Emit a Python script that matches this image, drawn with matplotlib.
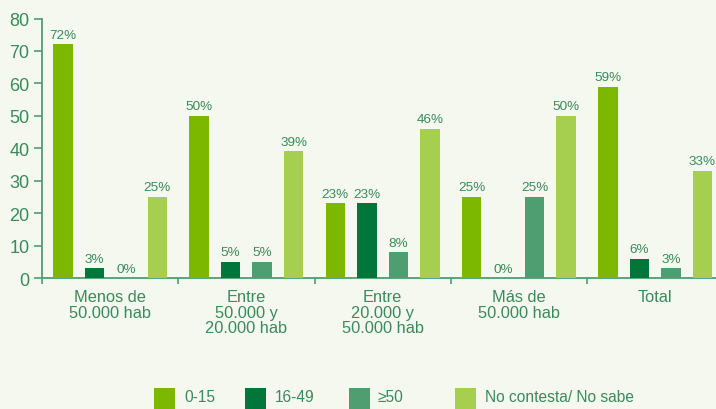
import matplotlib
matplotlib.use("Agg")
import matplotlib.pyplot as plt
from matplotlib.patches import Rectangle
import numpy as np

plt.rcParams['font.family'] = ['Liberation Sans', 'DejaVu Sans']

categories = ["Menos de\n50.000 hab", "Entre\n50.000 y\n20.000 hab",
              "Entre\n20.000 y\n50.000 hab", "Más de\n50.000 hab", "Total"]
series_names = ["0-15", "16-49", "≥50", "No contesta/ No sabe"]
v_0_15 = [72, 50, 23, 25, 59]
v_16_49 = [3, 5, 23, 0, 6]
v_50 = [0, 5, 8, 25, 3]
v_ns = [25, 39, 46, 50, 33]
series_values = [v_0_15, v_16_49, v_50, v_ns]
y_ticks = [0, 10, 20, 30, 40, 50, 60, 70, 80]

colors = ["#7CB800", "#00763A", "#4E9E72", "#A6CE4F"]
text_color = "#3A8A5C"
axis_color = "#4E9E72"
bg = "#F5F8EF"

W, H = 716, 410
fig = plt.figure(figsize=(W / 100, H / 100), dpi=100, facecolor=bg)
ax_left, ax_right = 42, 716
ax_top, ax_bottom = 19.5, 279
ax = fig.add_axes([ax_left / W, (H - ax_bottom) / H, (ax_right - ax_left) / W,
                   (ax_bottom - ax_top) / H])
ax.set_facecolor(bg)

group_px = 136.25
n = len(categories)
x = np.arange(n)
spacing = 31.5 / group_px
width = 19.5 / group_px
offsets = (np.arange(4) - 1.5) * spacing

for i, (vals, c) in enumerate(zip(series_values, colors)):
    ax.bar(x + offsets[i], vals, width=width, color=c, zorder=3)
    for xi, v in zip(x + offsets[i], vals):
        ax.annotate(f"{v}%", (xi, v), xytext=(0, 2.5), textcoords="offset points",
                    ha="center", va="bottom", fontsize=9.7, color=text_color, zorder=4)

ax.set_yticks(y_ticks)
ax.set_yticklabels([str(t) for t in y_ticks])
ax.set_xticks(x)
ax.set_xticklabels(categories, linespacing=1.05)
ax.set_xticks(np.arange(n + 1) - 0.5, minor=True)
ax.set_xlim(-0.5, -0.5 + (ax_right - ax_left) / group_px)
ax.set_ylim(0, 80)

ax.tick_params(axis="y", colors=axis_color, labelcolor=text_color, labelsize=13,
               length=6, width=1.2, pad=3)
ax.tick_params(axis="x", which="major", length=0, pad=8, labelcolor=text_color,
               labelsize=11.8)
ax.tick_params(axis="x", which="minor", length=4, width=1.2, colors=axis_color)

for s in ["top", "right"]:
    ax.spines[s].set_visible(False)
for s in ["left", "bottom"]:
    ax.spines[s].set_color(axis_color)
    ax.spines[s].set_linewidth(1.3)
ax.spines["left"].set_bounds(0, 80)

# legend
leg_sq_x = [153.5, 245.3, 348.7, 455]
leg_tx_x = [184, 275, 378, 485]
sq = 21
for name, c, sx, tx in zip(series_names, colors, leg_sq_x, leg_tx_x):
    fig.patches.append(Rectangle((sx / W, (H - 389 - sq) / H), sq / W, sq / H,
                                 transform=fig.transFigure, facecolor=c,
                                 edgecolor="none"))
    fig.text(tx / W, (H - 398) / H, name, ha="left", va="center",
             fontsize=11.2, color=text_color)

fig.savefig("out.png", dpi=100, facecolor=bg)
